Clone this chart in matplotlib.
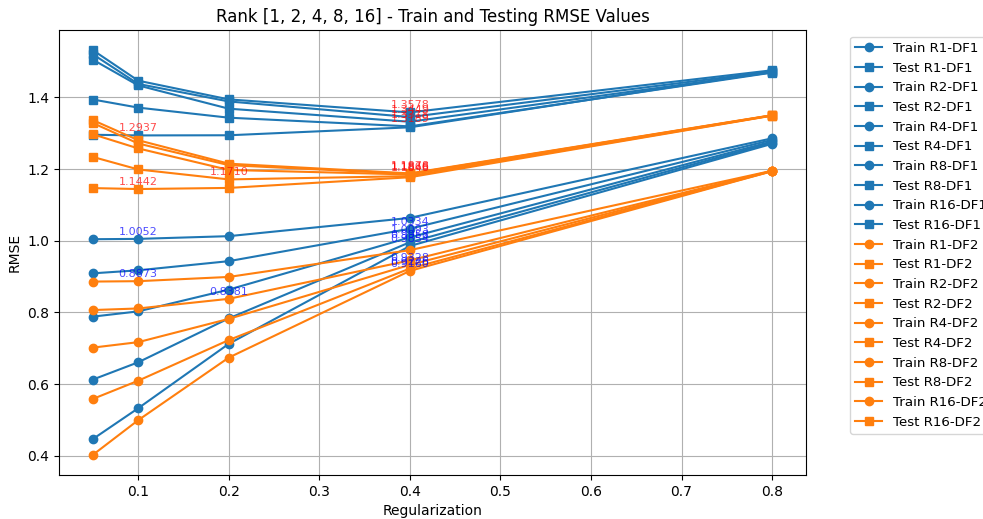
import numpy as np
import matplotlib.pyplot as plt

reg = [0.05, 0.1, 0.2, 0.4, 0.8]
ranks = [1, 2, 4, 8, 16]

# DF1 RMSE, one row per rank
train_df1 = [
    [1.0043, 1.0052, 1.0128, 1.0637, 1.2856],
    [0.9092, 0.9176, 0.9431, 1.0334, 1.2812],
    [0.7885, 0.8031, 0.8638, 1.0093, 1.2768],
    [0.6131, 0.6612, 0.7836, 0.9958, 1.2735],
    [0.4473, 0.5331, 0.7126, 0.9854, 1.2702],
]
test_df1 = [
    [1.2955, 1.2937, 1.2941, 1.3163, 1.4712],
    [1.3938, 1.3712, 1.3431, 1.3189, 1.4688],
    [1.5047, 1.4331, 1.3682, 1.3318, 1.4695],
    [1.5198, 1.4372, 1.3884, 1.3449, 1.4721],
    [1.5312, 1.4463, 1.3941, 1.3578, 1.4753],
]

# DF2 RMSE
train_df2 = [
    [0.8862, 0.8873, 0.8991, 0.9738, 1.1952],
    [0.8068, 0.8112, 0.8381, 0.9452, 1.1948],
    [0.7021, 0.7173, 0.7822, 0.9328, 1.1945],
    [0.5591, 0.6098, 0.7231, 0.9226, 1.1941],
    [0.4033, 0.4998, 0.6742, 0.9160, 1.1938],
]
test_df2 = [
    [1.1468, 1.1442, 1.1473, 1.1771, 1.3488],
    [1.2336, 1.1988, 1.1710, 1.1802, 1.3492],
    [1.2968, 1.2574, 1.1974, 1.1848, 1.3495],
    [1.3281, 1.2711, 1.2108, 1.1866, 1.3497],
    [1.3362, 1.2803, 1.2149, 1.1878, 1.3501],
]

dpi = 100
fig = plt.figure(figsize=(983 / dpi, 519 / dpi), dpi=dpi)
ax = fig.add_axes([59 / 983, 1 - 475 / 519, (806 - 59) / 983, (475 - 30) / 519])

results = {'DF1': (train_df1, test_df1, 'C0'), 'DF2': (train_df2, test_df2, 'C1')}

for df, (tr_all, te_all, c) in results.items():
    for i, r in enumerate(ranks):
        tr = tr_all[i]
        te = te_all[i]
        ax.plot(reg, tr, marker='o', color=c, label=f'Train R{r}-{df}')
        ax.plot(reg, te, marker='s', color=c, label=f'Test R{r}-{df}')
        # mark the regularization with the lowest test error
        best = int(np.argmin(te))
        ax.annotate(f'{tr[best]:.4f}', (reg[best], tr[best]), textcoords='offset points',
                    xytext=(0, 5), ha='center', va='center', fontsize=8, color='blue', alpha=0.7)
        ax.annotate(f'{te[best]:.4f}', (reg[best], te[best]), textcoords='offset points',
                    xytext=(0, 5), ha='center', va='center', fontsize=8, color='red', alpha=0.7)

ax.set_title('Rank [1, 2, 4, 8, 16] - Train and Testing RMSE Values')
ax.set_xlabel('Regularization')
ax.set_ylabel('RMSE')
ax.legend(bbox_to_anchor=(1.05, 1), loc='upper left', fontsize=9.6)
ax.grid(True)

fig.savefig('out.png', dpi=dpi)
